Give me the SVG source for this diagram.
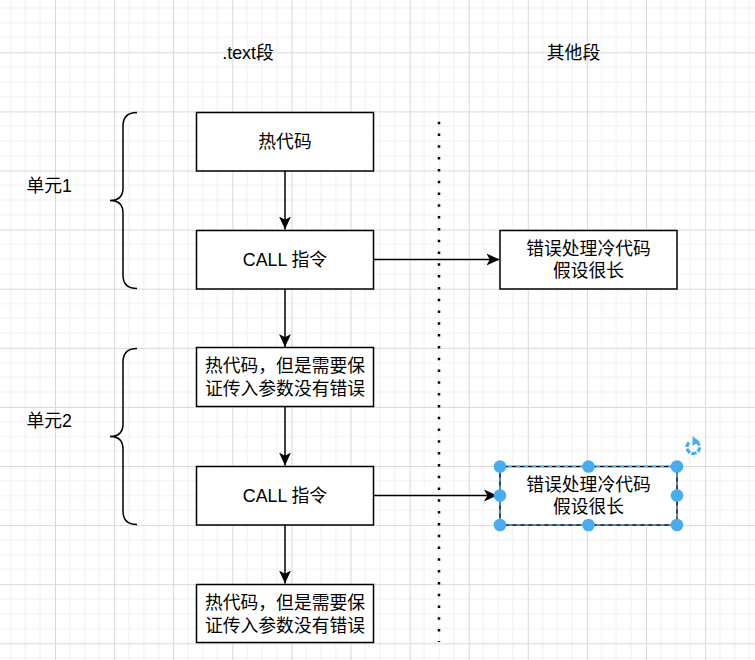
<svg xmlns="http://www.w3.org/2000/svg" width="755" height="660" viewBox="0 0 755 660">
  <defs>
    <pattern id="grid" patternUnits="userSpaceOnUse" x="55" y="52.3" width="59.1" height="59.1">
      <rect width="59.1" height="59.1" fill="#ffffff"/>
      <path d="M14.8,0V59.1M29.55,0V59.1M44.3,0V59.1M0,14.8H59.1M0,29.55H59.1M0,44.3H59.1" stroke="#f0f0f0" stroke-width="1" fill="none"/>
      <path d="M0.5,0V59.1M0,0.5H59.1" stroke="#d8d8d8" stroke-width="1" fill="none"/>
    </pattern>
    <marker id="arrow" markerUnits="userSpaceOnUse" markerWidth="16" markerHeight="14" refX="13" refY="6" orient="auto" viewBox="0 0 16 12">
      <path d="M0,0 L13,6 L0,12 L3.3,6 Z" fill="#000000"/>
    </marker>
  </defs>
  <style>
    .box { fill: #ffffff; stroke: #000000; stroke-width: 1.5; }
    .t { font-family: "Liberation Sans", "Noto Sans CJK SC", sans-serif; font-size: 17.8px; fill: #000000; text-anchor: middle; dominant-baseline: central; }
    .tl { font-family: "Liberation Sans", "Noto Sans CJK SC", sans-serif; font-size: 17.8px; fill: #000000; dominant-baseline: central; }
    .edge { fill: none; stroke: #000000; stroke-width: 1.5; }
    .brace { fill: none; stroke: #000000; stroke-width: 1.5; }
    .handle { fill: #4aacf0; }
  </style>
  <rect x="0" y="0" width="755" height="660" fill="url(#grid)"/>

  <g id="label-text">
    <text class="t" x="248" y="53">.text段</text>
  </g>
  <g id="label-other">
    <text class="t" x="573.5" y="53">其他段</text>
  </g>

  <g id="unit1">
    <path class="brace" d="M137,112.5 Q123,112.5 123,126 L123,188 Q123,200.5 110,200.5 Q123,200.5 123,213 L123,275 Q123,288.5 137,288.5"/>
    <text class="tl" x="26.5" y="186">单元1</text>
  </g>
  <g id="unit2">
    <path class="brace" d="M137,348.5 Q123,348.5 123,362 L123,424 Q123,436.5 110,436.5 Q123,436.5 123,449 L123,511 Q123,524.5 137,524.5"/>
    <text class="tl" x="26.5" y="421">单元2</text>
  </g>

  <g id="separator">
    <line x1="439" y1="121.7" x2="439" y2="642" stroke="#000000" stroke-width="2.5" stroke-dasharray="2.5 9.3"/>
  </g>

  <g id="connectors">
    <line class="edge" x1="285" y1="171" x2="285" y2="229.5" marker-end="url(#arrow)"/>
    <line class="edge" x1="285" y1="289" x2="285" y2="347" marker-end="url(#arrow)"/>
    <line class="edge" x1="285" y1="407" x2="285" y2="465.5" marker-end="url(#arrow)"/>
    <line class="edge" x1="285" y1="525" x2="285" y2="583.5" marker-end="url(#arrow)"/>
    <line class="edge" x1="374" y1="259.5" x2="499.5" y2="259.5" marker-end="url(#arrow)"/>
    <line class="edge" x1="374" y1="495.5" x2="497" y2="495.5" marker-end="url(#arrow)"/>
  </g>

  <g id="hot1">
    <rect class="box" x="196.5" y="112.5" width="177" height="58.5"/>
    <text class="t" x="285" y="141.5">热代码</text>
  </g>
  <g id="call1">
    <rect class="box" x="196.5" y="230.5" width="177" height="58.5"/>
    <text class="t" x="285" y="259.5">CALL 指令</text>
  </g>
  <g id="hot2">
    <rect class="box" x="196.5" y="347.5" width="177" height="59"/>
    <text class="t" x="285" y="366">热代码，但是需要保</text>
    <text class="t" x="285" y="388.5">证传入参数没有错误</text>
  </g>
  <g id="call2">
    <rect class="box" x="196.5" y="466.5" width="177" height="58.5"/>
    <text class="t" x="285" y="495.5">CALL 指令</text>
  </g>
  <g id="hot3">
    <rect class="box" x="196.5" y="584.5" width="177" height="58"/>
    <text class="t" x="285" y="603">热代码，但是需要保</text>
    <text class="t" x="285" y="625.5">证传入参数没有错误</text>
  </g>

  <g id="cold1">
    <rect class="box" x="500" y="230.5" width="177" height="58.5"/>
    <text class="t" x="588.5" y="248.5">错误处理冷代码</text>
    <text class="t" x="588.5" y="270.5">假设很长</text>
  </g>
  <g id="cold2">
    <rect class="box" x="500" y="466.5" width="177" height="58.5"/>
    <rect x="500" y="466.5" width="177" height="58.5" fill="none" stroke="#4aacf0" stroke-width="1.5" stroke-dasharray="4 4"/>
    <text class="t" x="588.5" y="484.5">错误处理冷代码</text>
    <text class="t" x="588.5" y="506.5">假设很长</text>
    <circle class="handle" cx="500" cy="466.5" r="6.3"/>
    <circle class="handle" cx="588.5" cy="466.5" r="6.3"/>
    <circle class="handle" cx="677" cy="466.5" r="6.3"/>
    <circle class="handle" cx="500" cy="495.5" r="6.3"/>
    <circle class="handle" cx="677" cy="495.5" r="6.3"/>
    <circle class="handle" cx="500" cy="525" r="6.3"/>
    <circle class="handle" cx="588.5" cy="525" r="6.3"/>
    <circle class="handle" cx="677" cy="525" r="6.3"/>
    <path d="M689,442.5 A6.3,6.3 0 1 0 696,441.5" fill="none" stroke="#4aacf0" stroke-width="3.2" stroke-dasharray="5 1.5"/>
    <path d="M692.5,436 L699.5,441.5 L692.5,446 Z" fill="#4aacf0"/>
  </g>
</svg>
